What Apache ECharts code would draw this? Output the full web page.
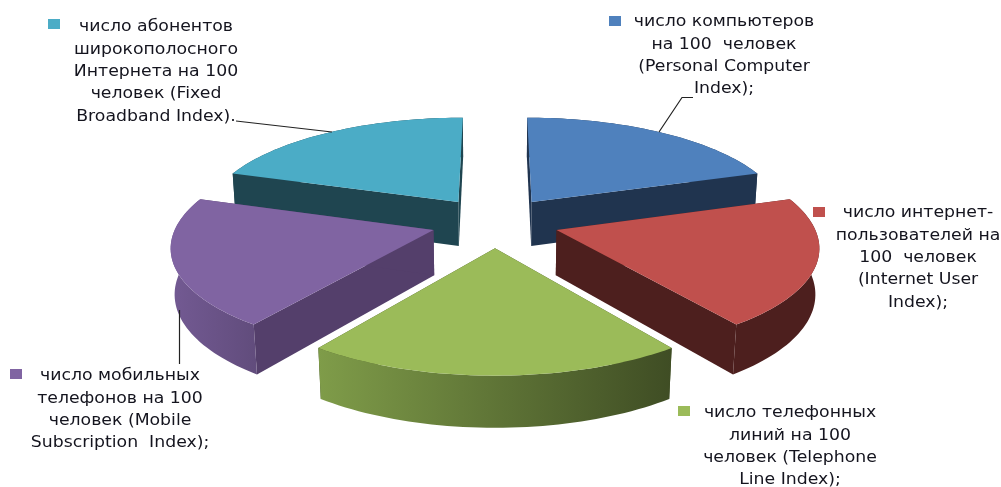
<!DOCTYPE html>
<html><head><meta charset="utf-8">
<style>html,body{margin:0;padding:0;background:#fff}#c{width:1001px;height:487px}</style>
<script src="https://cdn.jsdelivr.net/npm/echarts@6/dist/echarts.min.js"></script>
</head><body><div id="c"></div>
<script>
const categories = [
  ['число компьютеров','на 100  человек','(Personal Computer','Index);'],
  ['число интернет-','пользователей на','100  человек','(Internet User','Index);'],
  ['число телефонных','линий на 100','человек (Telephone','Line Index);'],
  ['число мобильных','телефонов на 100','человек (Mobile','Subscription  Index);'],
  ['число абонентов','широкополосного','Интернета на 100','человек (Fixed','Broadband Index).']
];
const values = [20, 20, 20, 20, 20];
const topColors = ['#4f81bd','#c0504d','#9bbb59','#8064a2','#4bacc6'];
const sideColors = ['#20344f','#4d1f1e','#3f4d24','#543f6b','#1f4550'];
const rimStart = ['#20344f','#4d1f1e','#7f9c49','#735a93','#1f4550'];
const rimEnd = ['#20344f','#4d1f1e','#3f4d24','#614c7c','#1f4550'];

// label layout: centre x, first line middle y, marker x, marker y
const labelX = [724, 918, 790, 120, 156];
const labelY = [22, 213, 413, 376, 27];
const lineGap = 22.4;
const markX = [609, 813, 678, 10, 48];
const markY = [16, 207, 406, 369, 19];
const leaders = [
  [[693,97.5],[682,97.5],[659,132]],
  [[179.5,310],[179.5,364]],
  [[236,121],[332,132]]
];

// camera
const cx=495, cy=222, A=256, B=101.4, K=0.14, KZ=0.012, H=45.5, EX=0.25;
function proj(X,Y,Z){const w=1+K*Y+KZ*Z;return [cx+A*X/w, cy-B*Y/w+H*Z/w];}

const total = values.reduce((a,b)=>a+b,0);
const starts = values.map((_,i)=>values.slice(0,i).reduce((a,b)=>a+b,0)/total*Math.PI*2);

function renderItem(params, api){
  const i = params.dataIndex;
  const a0 = starts[i], a1 = a0 + api.value(0)/total*Math.PI*2, m=(a0+a1)/2;
  const ox = Math.sin(m)*EX, oy = Math.cos(m)*EX;
  const topPts=[], botPts=[];
  const n=48;
  for(let j=0;j<=n;j++){
    const a=a0+(a1-a0)*j/n, X=ox+Math.sin(a), Y=oy+Math.cos(a);
    topPts.push(proj(X,Y,0)); botPts.push(proj(X,Y,1));
  }
  const apexT=proj(ox,oy,0), apexB=proj(ox,oy,1);
  const base=Math.round((1-Math.cos(m))*100);
  const poly=(pts,fill,z)=>({type:'polygon',z2:base+z,shape:{points:pts},style:{fill:fill}});
  const wall=(p,q)=>[apexT,p,q,apexB];
  return {type:'group',children:[
    poly(wall(topPts[0],botPts[0]),sideColors[i],0),
    poly(wall(topPts[n],botPts[n]),sideColors[i],1),
    poly(topPts.concat(botPts.slice().reverse()),
      new echarts.graphic.LinearGradient(0,0,1,0,[{offset:0,color:rimStart[i]},{offset:1,color:rimEnd[i]}]),2),
    poly([apexT].concat(topPts),topColors[i],3)
  ]};
}

const graphics=[];
categories.forEach((lines,i)=>{
  lines.forEach((t,j)=>graphics.push({type:'text',z:10,x:labelX[i],y:labelY[i]+j*lineGap,scaleX:1.08,
    style:{text:t,fill:'#14141e',font:'16px "DejaVu Sans"',align:'center',verticalAlign:'middle'}}));
  graphics.push({type:'rect',z:10,shape:{x:markX[i],y:markY[i],width:12,height:10},style:{fill:topColors[i]}});
});
leaders.forEach(p=>graphics.push({type:'polyline',z:9,shape:{points:p},style:{stroke:'#222',lineWidth:1.2,fill:null}}));

const chart=echarts.init(document.getElementById('c'),null,{renderer:'canvas'});
chart.setOption({
  animation:false,
  backgroundColor:'#fff',
  series:[{type:'custom',coordinateSystem:'none',renderItem,data:values.map(v=>[v]),silent:true}],
  graphic:graphics
});
</script></body></html>
